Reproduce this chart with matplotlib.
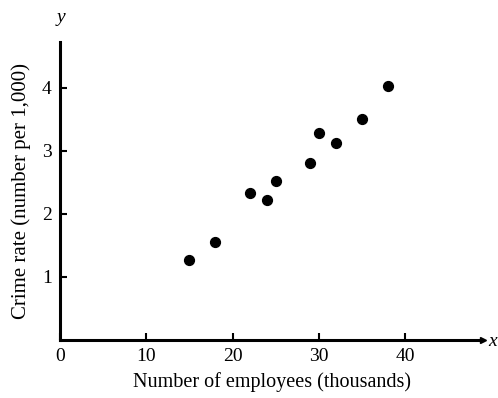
import matplotlib
matplotlib.use("Agg")
import matplotlib.pyplot as plt

# employees (thousands) vs crime rate (per 1,000)
employees = [15, 18, 22, 24, 25, 29, 30, 32, 35, 38]
crime_rate = [1.27, 1.55, 2.33, 2.23, 2.53, 2.81, 3.29, 3.13, 3.50, 4.03]
x_ticks = [0, 10, 20, 30, 40]
y_ticks = [1, 2, 3, 4]

plt.rcParams["font.family"] = ["Liberation Serif", "DejaVu Serif"]

fig = plt.figure(figsize=(4.98, 3.98), dpi=100)
ax = fig.add_axes([60 / 498, 58 / 398, 423 / 498, 298 / 398])

ax.scatter(employees, crime_rate, s=50, color="black", zorder=3)

ax.set_xlim(0, 49)
ax.set_ylim(0, 4.73)
ax.set_xticks(x_ticks)
ax.set_yticks(y_ticks)
ax.tick_params(direction="in", length=5, width=1.5, labelsize=14, pad=6)

for side in ["top", "right"]:
    ax.spines[side].set_visible(False)
for side in ["left", "bottom"]:
    ax.spines[side].set_linewidth(2.2)

# small arrow at end of x axis
ax.plot(1, 0, ">k", markersize=5, transform=ax.get_yaxis_transform(), clip_on=False)

ax.set_xlabel("Number of employees (thousands)", fontsize=14.5, labelpad=5)
ax.set_ylabel("Crime rate (number per 1,000)", fontsize=15, labelpad=8)

fig.text(61 / 498, 1 - 18 / 398, "y", fontsize=14, style="italic", ha="center", va="center")
fig.text(493 / 498, 1 - 341 / 398, "x", fontsize=14, style="italic", ha="center", va="center")

plt.savefig("out.png", dpi=100)
plt.close()
